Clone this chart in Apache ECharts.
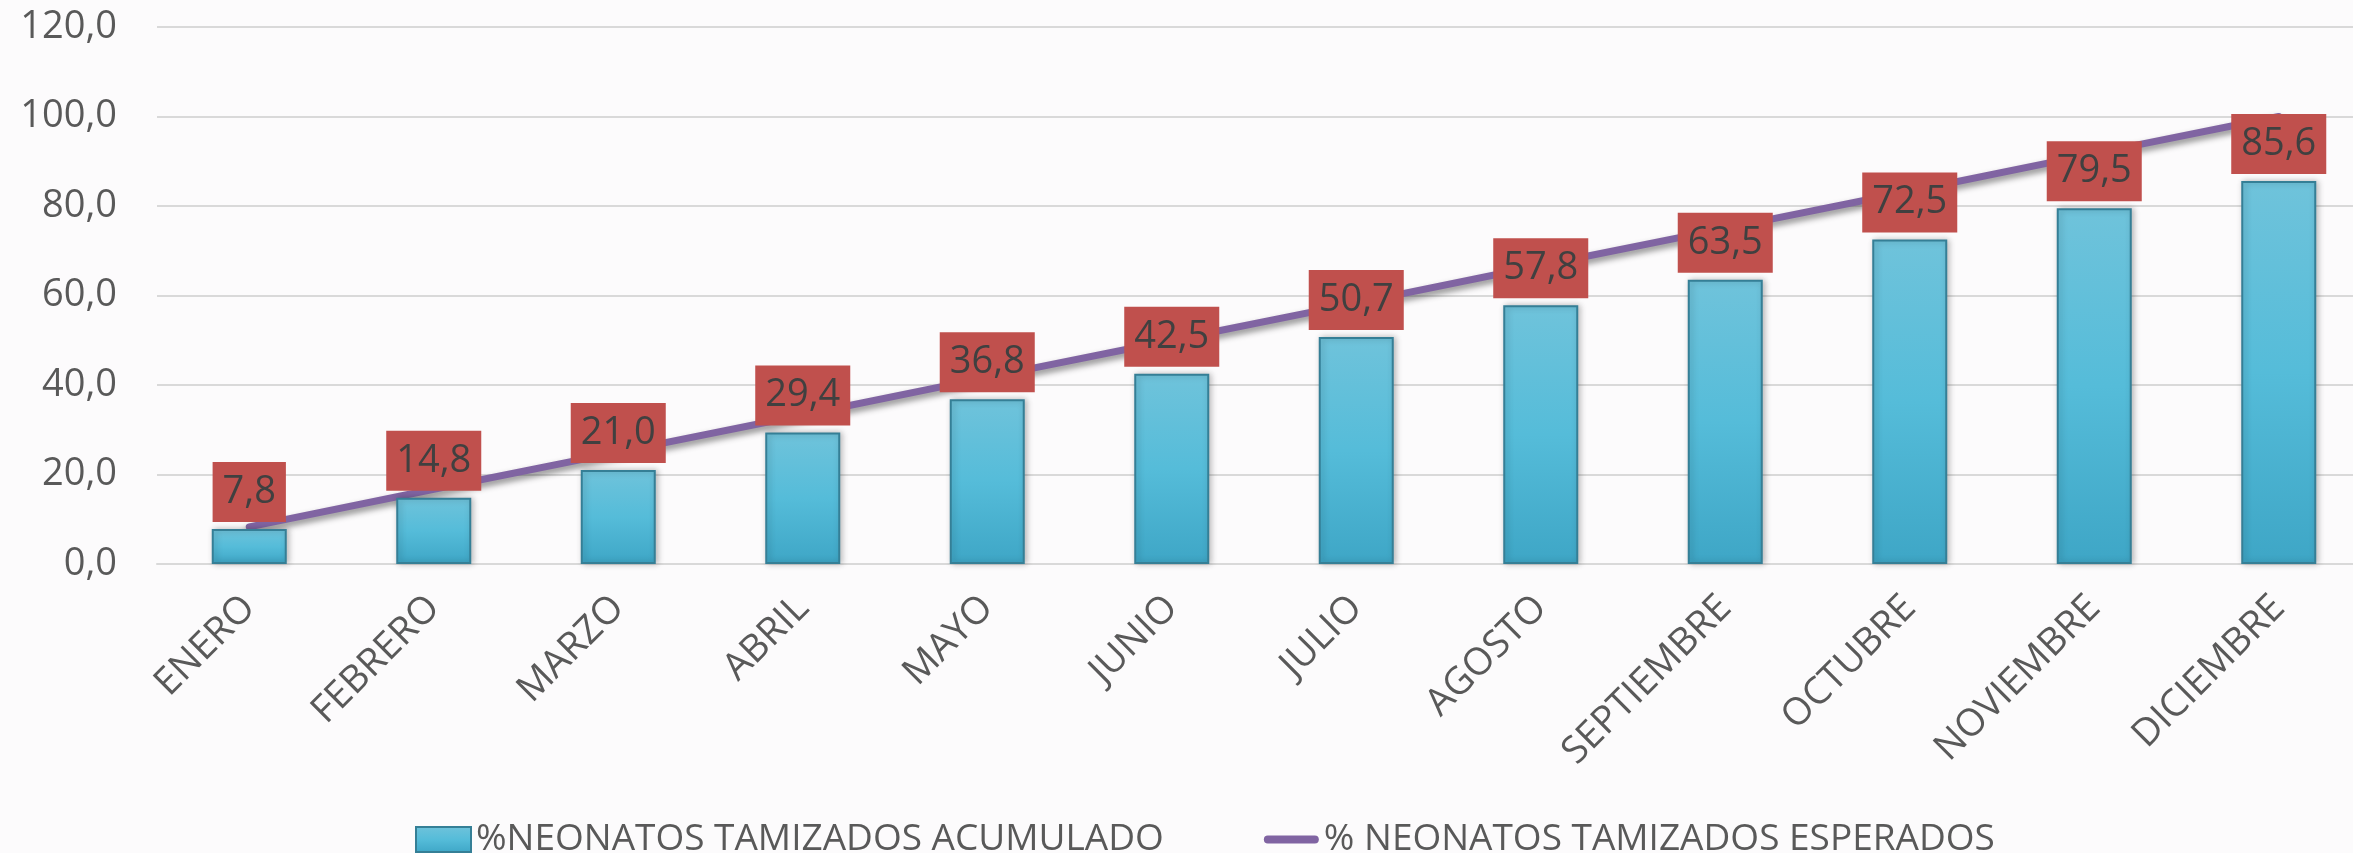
<!DOCTYPE html>
<html>
<head>
<meta charset="utf-8">
<script src="https://cdn.jsdelivr.net/npm/echarts@6.0.0/dist/echarts.min.js"></script>
<style>
html, body { margin: 0; padding: 0; background: #fcfbfc; }
#chart { width: 2353px; height: 853px; }
</style>
</head>
<body>
<div id="chart"></div>
<script>
// datos
var meses = ['ENERO', 'FEBRERO', 'MARZO', 'ABRIL', 'MAYO', 'JUNIO', 'JULIO', 'AGOSTO', 'SEPTIEMBRE', 'OCTUBRE', 'NOVIEMBRE', 'DICIEMBRE'];
var acumulado = [7.8, 14.8, 21.0, 29.4, 36.8, 42.5, 50.7, 57.8, 63.5, 72.5, 79.5, 85.6];
var esperado = [8.3, 16.7, 25.0, 33.3, 41.7, 50.0, 58.3, 66.7, 75.0, 83.3, 91.7, 100.0];
var nombreBarra = '%NEONATOS TAMIZADOS ACUMULADO';
var nombreLinea = '% NEONATOS TAMIZADOS ESPERADOS';

var fuente = "'Open Sans', 'Noto Sans', sans-serif";
function coma(v) { return Number(v).toFixed(1).replace('.', ','); }

var chart = echarts.init(document.getElementById('chart'));
chart.setOption({
	backgroundColor: '#fcfbfc',
	animation: false,
	textStyle: { fontFamily: fuente },
	grid: { left: 157, right: -18, top: 27, bottom: 289, outerBoundsMode: 'none' },
	legend: {
		left: 410, top: 816,
		itemWidth: 55, itemHeight: 25, itemGap: 100,
		symbolKeepAspect: true,
		textStyle: { fontSize: 37, color: '#595959', fontFamily: fuente },
		data: [
			{ name: nombreBarra, icon: 'rect' },
			{ name: nombreLinea, icon: 'path://M4,0 L51,0 Q55,0 55,4 Q55,8 51,8 L4,8 Q0,8 0,4 Q0,0 4,0 Z' }
		]
	},
	xAxis: {
		type: 'category',
		data: meses,
		axisTick: { show: false },
		axisLine: { lineStyle: { color: '#d9d9d9', width: 2 } },
		axisLabel: { rotate: 45, fontSize: 38, color: '#595959', margin: 38, interval: 0 }
	},
	yAxis: {
		type: 'value', min: 0, max: 120, interval: 20,
		axisLine: { show: false },
		axisTick: { show: false },
		splitLine: { lineStyle: { color: '#d9d9d9', width: 2 } },
		axisLabel: { fontSize: 38, color: '#595959', margin: 40, formatter: coma }
	},
	series: [
		{
			name: nombreBarra,
			type: 'bar',
			z: 3,
			data: acumulado,
			barWidth: 75,
			itemStyle: {
				color: new echarts.graphic.LinearGradient(0, 0, 0, 1, [
					{ offset: 0, color: '#6fc3db' },
					{ offset: 0.5, color: '#55bcd9' },
					{ offset: 1, color: '#3ea6c6' }
				]),
				borderColor: '#357f96',
				borderWidth: 2,
				shadowColor: 'rgba(0,0,0,0.25)',
				shadowBlur: 6,
				shadowOffsetX: 2
			},
			label: {
				show: true,
				position: 'top',
				distance: 7,
				formatter: function (p) { return coma(p.value); },
				fontSize: 38,
				lineHeight: 38,
				color: '#404040',
				backgroundColor: '#c0504d',
				padding: [11, 10, 11, 10]
			}
		},
		{
			name: nombreLinea,
			type: 'line',
			z: 2,
			data: esperado,
			symbol: 'none',
			lineStyle: {
				color: '#8064a2', width: 7, cap: 'round',
				shadowColor: 'rgba(0,0,0,0.45)', shadowBlur: 6, shadowOffsetY: 4
			},
			itemStyle: { color: '#8064a2' }
		}
	]
});
</script>
</body>
</html>
